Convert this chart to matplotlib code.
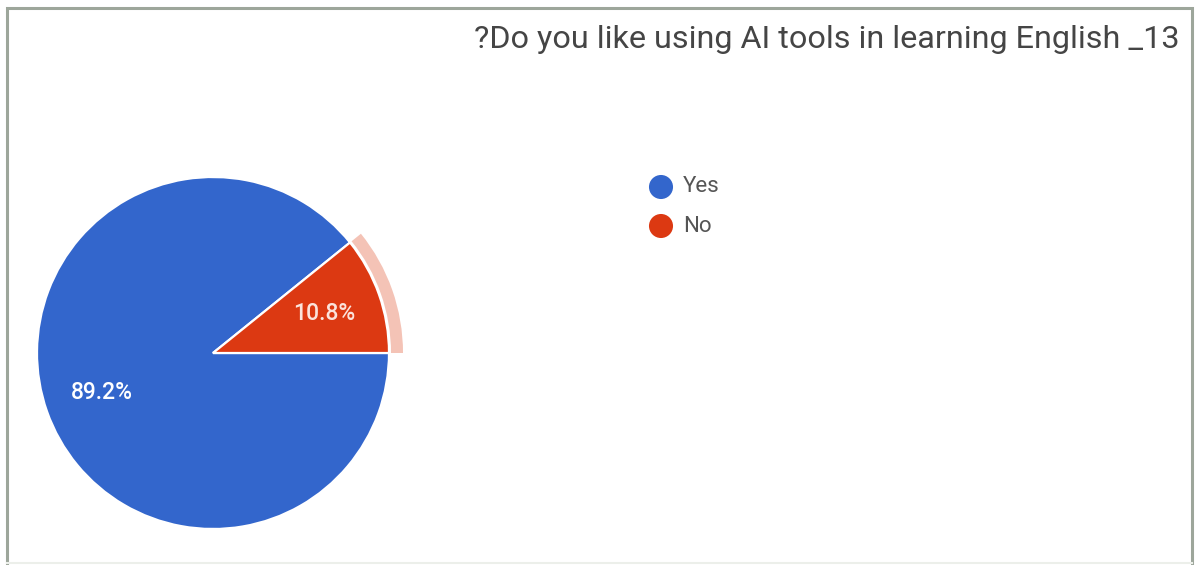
import matplotlib.pyplot as plt
from matplotlib.patches import Wedge

# survey answers
labels = ["Yes", "No"]
shares = [89.2, 10.8]
colors = ["#3366CC", "#DC3912"]
title = "?Do you like using AI tools in learning English _13"

W, H = 1200, 565
fig = plt.figure(figsize=(W / 100, H / 100), dpi=100)
ax = fig.add_axes([0, 0, 1, 1])

# card frame
ax.plot([7, 7, 1192, 1192], [0, H - 8, H - 8, 0], color="#9DA69B", lw=2.2,
        solid_joinstyle="miter")
ax.plot([7, 1192], [2, 2], color="#ECEFEA", lw=1.5)

cx, cy, r = 213, H - 353, 176

# "No" slice starts at 3 o'clock and opens counter-clockwise
start = 360 * shares[1] / sum(shares)
wedges, texts, autotexts = ax.pie(
    shares, colors=colors, startangle=start, counterclock=True,
    center=(cx, cy), radius=r, autopct="%1.1f%%", pctdistance=0.67,
    wedgeprops=dict(edgecolor="white", linewidth=1.6),
    textprops=dict(color="white", fontsize=16.5, family="Roboto",
                   fontweight="medium"),
    frame=True)
autotexts[1].set_color("#FBE3DC")
ax.set_xlim(0, W)
ax.set_ylim(0, H)
ax.set_aspect("equal")
ax.axis("off")

# hover halo around the selected slice
sel = wedges[1]
ax.add_patch(Wedge((cx, cy), r + 14, sel.theta1, sel.theta2, width=12,
                   facecolor="#F4C3B6", edgecolor="none"))

ax.text(1180, H - 40, title, ha="right", va="center", fontsize=23.3,
        family="Roboto", color="#454545")

# legend
for i, (lab, col) in enumerate(zip(labels, colors)):
    y = H - (187 + 39 * i)
    ax.scatter([661], [y], s=300, color=col, edgecolors="none")
    ax.text(683, y, lab, ha="left", va="center", fontsize=16,
            family="Roboto", color="#555555")

fig.savefig("out.png", dpi=100, facecolor="white")
